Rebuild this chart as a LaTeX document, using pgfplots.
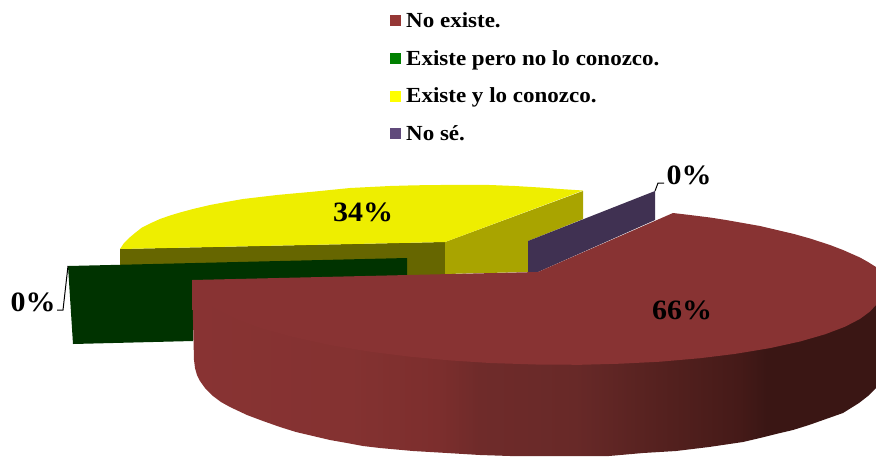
\documentclass[border=0pt]{standalone}
\usepackage{fontspec}
\setmainfont{Liberation Serif}[FakeStretch=1.07]
\usepackage{pgfplots}
\pgfplotsset{compat=1.18}

\definecolor{redtop}{HTML}{883333}
\definecolor{reds2}{HTML}{843231}
\definecolor{reds3}{HTML}{7C2E2D}
\definecolor{reds4}{HTML}{6F2B2A}
\definecolor{reds5}{HTML}{682928}
\definecolor{reds6}{HTML}{572220}
\definecolor{reds7}{HTML}{451A18}
\definecolor{reds8}{HTML}{3A1614}
\definecolor{yellowtop}{HTML}{EEEE00}
\definecolor{yellowfront}{HTML}{666600}
\definecolor{yellowside}{HTML}{A9A400}
\definecolor{greenslice}{HTML}{003300}
\definecolor{purpleslice}{HTML}{403152}

% the stops 25bp..75bp span the side wall from x=192 to x=876
\pgfdeclarehorizontalshading{redside}{100bp}{
  color(0bp)=(redtop); color(25bp)=(redtop); color(36.5bp)=(reds2);
  color(43bp)=(reds3); color(46bp)=(reds4); color(53bp)=(reds5);
  color(58.5bp)=(reds6); color(65bp)=(reds7); color(67bp)=(reds8);
  color(75bp)=(reds8); color(100bp)=(reds8)}

\begin{document}
\begin{tikzpicture}
\begin{axis}[
    width=876pt, height=456pt, scale only axis,
    xmin=0, xmax=876, ymin=0, ymax=456,
    y dir=reverse,
    hide axis,
    legend cell align=left,
    legend style={
        draw=none, fill=none,
        at={(axis cs:390,10.5)}, anchor=north west,
        font=\fontsize{21.5}{24}\selectfont\bfseries,
        row sep=17.2pt, inner sep=0pt,
    },
    legend image code/.code={
        \path[draw=none, fill=none] (0pt,0pt) rectangle (14pt,0.1pt);
        \fill[#1, draw=none] (0pt,-5.5pt) rectangle (11pt,5.5pt);
    },
]
% invisible frame, keeps the page at full size
\addplot[draw=none, forget plot] coordinates {(0,0)(876,456)};

% yellow slice: side walls
\addplot[fill=yellowfront, draw=none, forget plot] coordinates {
    (120,249)(445,242)(445,280)(120,280)};
\addplot[fill=yellowside, draw=none, forget plot] coordinates {
    (445,242)(583,191)(583,219)(528,241)(528,272)(445,274)};
% yellow slice: top
\addplot[fill=yellowtop, draw=none, forget plot] coordinates {
    (120,249)(124,243)(129,238)(135,233)(142,227.5)(150,223.5)(160,219)(170,215.5)(180,212.5)
    (193,209)(210,205)(226,202)(243,199)(260,197)(277,195)(293,193.5)(310,192)(330,190)
    (350,188)(370,187)(390,186)(415,185.3)(440,185)(465,184.8)(490,185)(515,186)
    (540,187.5)(560,189)(583,190.5)(445,242)};

% purple slice
\addplot[fill=purpleslice, draw=none, forget plot] coordinates {
    (528,241)(655,191)(655,220)(538,272)(528,272)};

% green slice
\addplot[fill=greenslice, draw=none, forget plot] coordinates {
    (68,266)(407,258)(407,285)(193,285)(193,341)(73,344)};

% red slice: outer wall, then top
\addplot[shading=redside, draw=none, forget plot] coordinates {
    (192,280)(194,360)(195,368)(197,375)(200,381)(205,388)(213,396)(221,402)(230,407)(247,415)
    (263,421)(280,427)(296,432)(313,436)(330,440)(347,443)(363,446)(380,448)(413,451)
    (447,453)(480,455)(510,456)(609,456)(643,453)(676,451)(709,447)(743,442)(760,438)
    (776,434)(793,430)(809,425)(826,419)(843,413)(851,408)(859,403)(868,396)(876,388)
    (876,280)};
\addplot[fill=redtop, draw=none, forget plot] coordinates {
    (538,272)(673,213)(690,215)(710,217.5)(726,220)(743,223)(760,226)(777,230)(794,234)
    (810,238.5)(830,245)(843,250)(860,257.5)(868,262)(876,267)(876,305)(870,311.5)
    (860,318.9)(845,326.7)(825,334.3)(800,341.5)(770,348.1)(735,353.9)(700,358.2)
    (660,361.7)(620,363.7)(580,364.8)(536,364.5)(490,363)(450,360.4)(410,356.7)
    (370,351.7)(330,345.1)(290,336.3)(260,327.9)(235,318.6)(215,308.5)(203,299.8)
    (196,292)(192,280)};

% leader lines
\addplot[black, line width=1pt, forget plot] coordinates {(68,266)(63,310)(57,310)};
\addplot[black, line width=1pt, forget plot] coordinates {(655,191)(658,183)(664,183)};

% legend
\addlegendimage{fill={rgb,255:red,149;green,55;blue,53}}
\addlegendentry{No existe.}
\addlegendimage{fill={rgb,255:red,0;green,128;blue,0}}
\addlegendentry{Existe pero no lo conozco.}
\addlegendimage{fill={rgb,255:red,255;green,255;blue,0}}
\addlegendentry{Existe y lo conozco.}
\addlegendimage{fill={rgb,255:red,96;green,74;blue,123}}
\addlegendentry{No sé.}

% data labels
\node[font=\fontsize{28}{30}\selectfont\bfseries] at (axis cs:33,302) {0\%};
\node[font=\fontsize{28}{30}\selectfont\bfseries] at (axis cs:363,212) {34\%};
\node[font=\fontsize{28}{30}\selectfont\bfseries] at (axis cs:682,310) {66\%};
\node[font=\fontsize{28}{30}\selectfont\bfseries] at (axis cs:689,175) {0\%};
\end{axis}
\end{tikzpicture}
\end{document}
